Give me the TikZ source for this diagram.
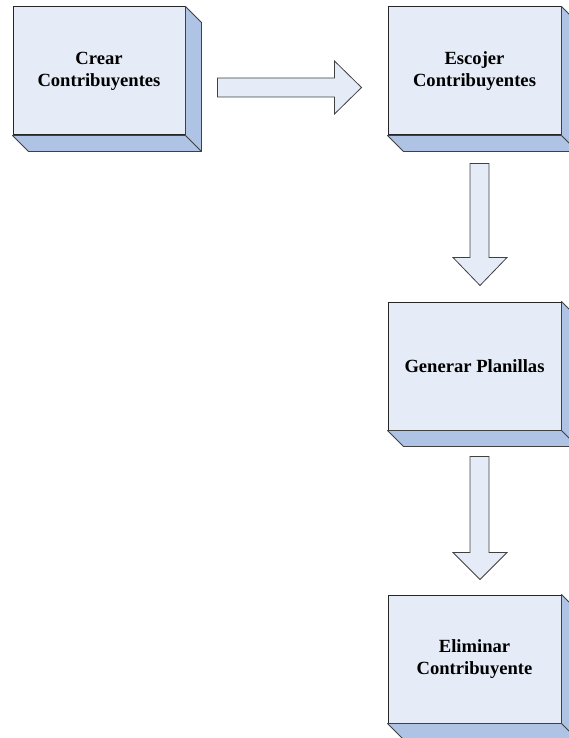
\documentclass[tikz,border=0pt]{standalone}
\usepackage{fontspec}
\setmainfont{Liberation Serif}
\usepackage{xcolor}
\usepackage{tikz}
\usetikzlibrary{calc}

\definecolor{cara}{HTML}{E5ECF7}
\definecolor{lado}{HTML}{AFC3E5}

\begin{document}
\begin{tikzpicture}[x=1pt, y=-1pt,
  caja/.style={rectangle, draw=black!85, line width=1pt, fill=cara, minimum width=173pt, minimum height=128pt, align=center, font=\fontsize{18.6}{22}\selectfont\bfseries},
  ladocaja/.style={draw=black!75, line width=0.8pt, fill=lado, line join=round},
  flecha/.style={draw=black!75, line width=0.8pt, fill=cara}]
\useasboundingbox (0,0) rectangle (568,738);

\node (crear) [caja, minimum width=172pt] at (99,71) {Crear\\Contribuyentes};
\node (escojer) [caja] at (474.5,71) {Escojer\\Contribuyentes};
\node (generar) [caja] at (474.5,366) {Generar Planillas};
\node (eliminar) [caja] at (474.5,659) {Eliminar\\Contribuyente};

% caras laterales de las cajas
\foreach \n in {crear,escojer,generar,eliminar} {
  \filldraw[ladocaja] (\n.north east) -- ++(16,16) -- ($(\n.south east)+(16,16)$) -- ($(\n.south west)+(16,16)$) -- (\n.south west) -- (\n.south east) -- cycle;
  \draw[ladocaja] (\n.south east) -- ++(16,16);
}

% flechas
\draw[flecha] ($(crear.east)+(32,7)$) -- ($(escojer.west)+(-53,7)$) -- ++(0,-17) -- ($(escojer.west)+(-26,16.5)$) -- ($(escojer.west)+(-53,43)$) -- ++(0,-17) -- ($(crear.east)+(32,26)$) -- cycle;
\draw[flecha] ($(escojer.south)+(-4.5,28)$) -- ($(escojer.south)+(14.5,28)$) -- ($(generar.north)+(14.5,-44)$) -- ($(generar.north)+(32.5,-44)$) -- ($(generar.north)+(5.5,-16)$) -- ($(generar.north)+(-21.5,-44)$) -- ($(generar.north)+(-4.5,-44)$) -- cycle;
\draw[flecha] ($(generar.south)+(-4.5,26)$) -- ($(generar.south)+(14.5,26)$) -- ($(eliminar.north)+(14.5,-42)$) -- ($(eliminar.north)+(32.5,-42)$) -- ($(eliminar.north)+(5.5,-15)$) -- ($(eliminar.north)+(-21.5,-42)$) -- ($(eliminar.north)+(-4.5,-42)$) -- cycle;
\end{tikzpicture}
\end{document}
